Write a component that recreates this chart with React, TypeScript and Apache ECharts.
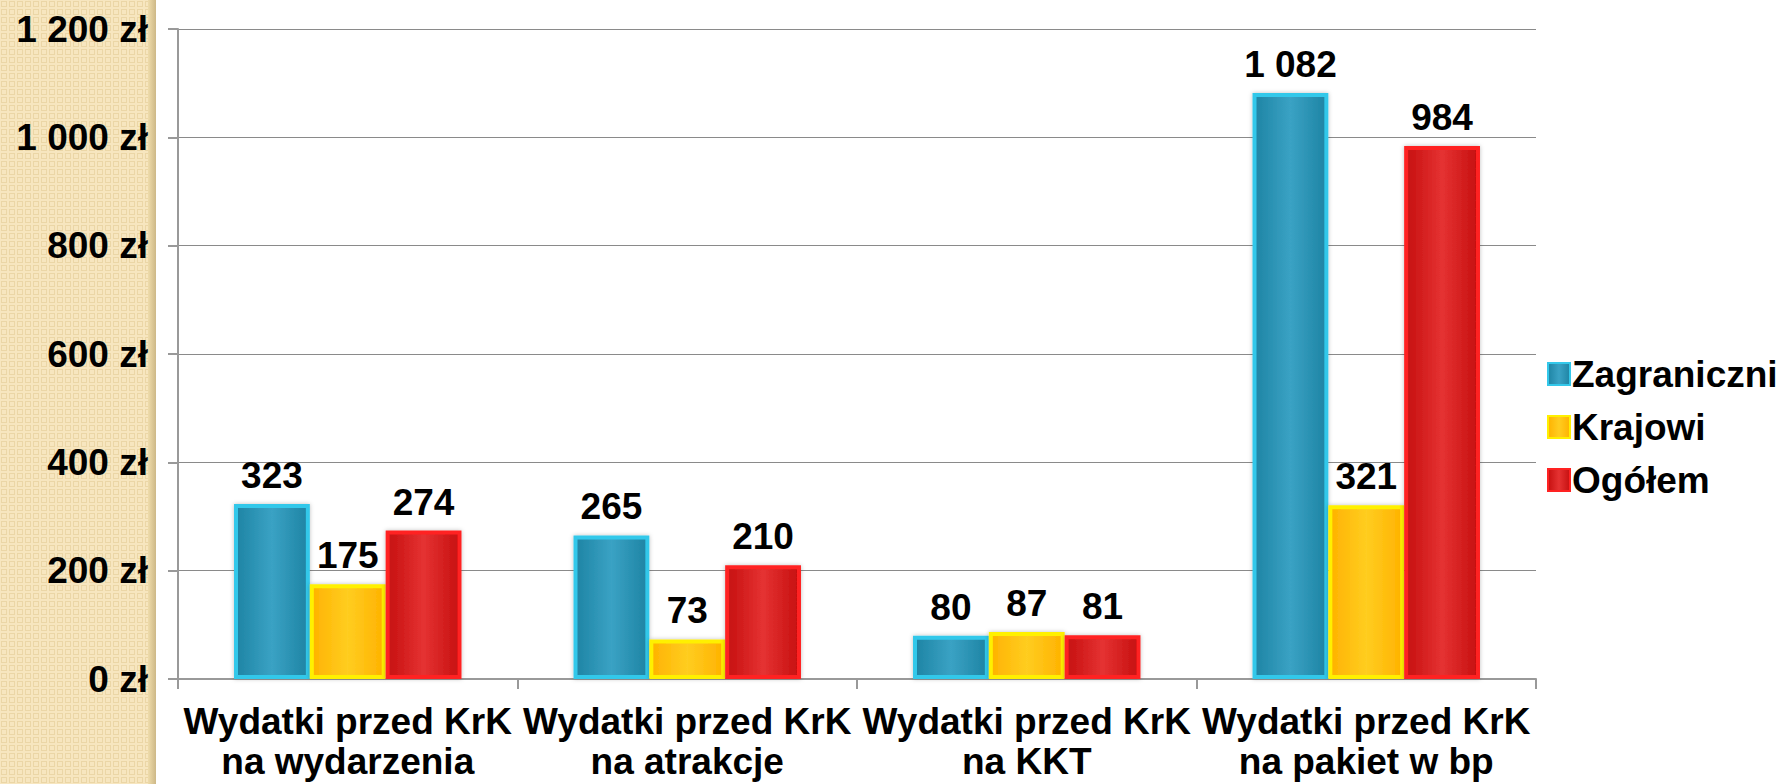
import React, { useEffect, useRef } from "react";
import * as echarts from "echarts";

const categories = [
  "Wydatki przed KrK\nna wydarzenia",
  "Wydatki przed KrK\nna atrakcje",
  "Wydatki przed KrK\nna KKT",
  "Wydatki przed KrK\nna pakiet w bp",
];
const seriesNames = ["Zagraniczni", "Krajowi", "Ogółem"];
const zagraniczni = [323, 265, 80, 1082];
const krajowi = [175, 73, 87, 321];
const ogolem = [274, 210, 81, 984];
const yTicks = { min: 0, max: 1200, interval: 200 };

const FONT = "Arial, 'Liberation Sans', sans-serif";

const fmt = (v: number) => String(v).replace(/\B(?=(\d{3})+(?!\d))/g, " ");

const grad = (edge: string, center: string) => ({
  type: "linear",
  x: 0,
  y: 0,
  x2: 1,
  y2: 0,
  colorStops: [
    { offset: 0, color: edge },
    { offset: 0.5, color: center },
    { offset: 1, color: edge },
  ],
});

const styles = [
  { fill: grad("#1e84a4", "#3aa2c4"), border: "#33c8ea" },
  { fill: grad("#ffb200", "#ffcd20"), border: "#fff000" },
  { fill: grad("#c61010", "#e53232"), border: "#ff2222" },
];

const tileSvg =
  "<svg xmlns='http://www.w3.org/2000/svg' width='8' height='8'>" +
  "<rect width='8' height='8' fill='#f7e6bf'/>" +
  "<rect x='1.5' y='1.5' width='5' height='5' fill='none' stroke='#ebd6a6' stroke-width='1'/>" +
  "</svg>";
const tileUrl = "data:image/svg+xml;utf8," + encodeURIComponent(tileSvg);

export default function App() {
  const ref = useRef<HTMLDivElement>(null);
  useEffect(() => {
    if (!ref.current) return;
    const chart = echarts.init(ref.current, undefined, { renderer: "svg" });
    const datas = [zagraniczni, krajowi, ogolem];
    chart.setOption({
      animation: false,
      backgroundColor: "#ffffff",
      graphic: [
        {
          type: "rect",
          left: 0,
          top: 0,
          shape: { width: 150, height: 784 },
          style: { fill: "#f4e2b4" },
          z: -11,
        },
        {
          type: "rect",
          left: 0,
          top: 0,
          shape: { width: 150, height: 784 },
          style: { fill: { image: tileUrl, repeat: "repeat" } as any },
          z: -10,
        },
        {
          type: "rect",
          left: 148,
          top: 0,
          shape: { width: 8, height: 784 },
          style: {
            fill: {
              type: "linear",
              x: 0,
              y: 0,
              x2: 1,
              y2: 0,
              colorStops: [
                { offset: 0, color: "#efdcab" },
                { offset: 1, color: "#cdb887" },
              ],
            },
          },
          z: -10,
        },
      ],
      grid: {
        left: 178,
        right: 251,
        top: 29,
        bottom: 105,
        containLabel: false,
        outerBoundsMode: "none",
      },
      legend: {
        orient: "vertical",
        left: 1542,
        top: 350,
        itemWidth: 22,
        itemHeight: 22,
        itemGap: 15,
        icon: "rect",
        data: seriesNames,
        itemStyle: { borderWidth: 2 },
        textStyle: {
          fontFamily: FONT,
          fontWeight: "bold",
          fontSize: 37,
          color: "#000",
          lineHeight: 38,
          padding: [0, 0, 0, -3],
        },
      },
      xAxis: {
        type: "category",
        data: categories,
        axisLine: { lineStyle: { color: "#999", width: 2 } },
        axisTick: { show: true, length: 10, interval: 0, lineStyle: { color: "#999", width: 2 } },
        axisLabel: {
          interval: 0,
          margin: 22,
          fontFamily: FONT,
          fontWeight: "bold",
          fontSize: 37,
          lineHeight: 40,
          color: "#000",
        },
      },
      yAxis: {
        type: "value",
        min: yTicks.min,
        max: yTicks.max,
        interval: yTicks.interval,
        axisLine: { show: true, lineStyle: { color: "#999", width: 2 } },
        axisTick: { show: true, length: 10, lineStyle: { color: "#999", width: 2 } },
        splitLine: { lineStyle: { color: "#8a8a8a", width: 1.2 } },
        axisLabel: {
          margin: 30,
          fontFamily: FONT,
          fontWeight: "bold",
          fontSize: 37,
          color: "#000",
          formatter: (v: number) => fmt(v) + " zł",
        },
      },
      series: seriesNames.map((name, i) => ({
        name,
        type: "bar",
        data: datas[i],
        barGap: "0%",
        barCategoryGap: "33%",
        itemStyle: {
          color: styles[i].fill,
          borderColor: styles[i].border,
          borderWidth: 4,
          shadowBlur: 4,
          shadowColor: "rgba(0,0,0,0.25)",
        },
        label: {
          show: true,
          position: "top",
          distance: 10,
          fontFamily: FONT,
          fontWeight: "bold",
          fontSize: 37,
          color: "#000",
          formatter: (p: any) => fmt(p.value),
        },
      })),
    });
    return () => chart.dispose();
  }, []);
  return (
    <div
      ref={ref}
      style={{ position: "absolute", left: 0, top: 0, width: 1787, height: 784 }}
    />
  );
}
